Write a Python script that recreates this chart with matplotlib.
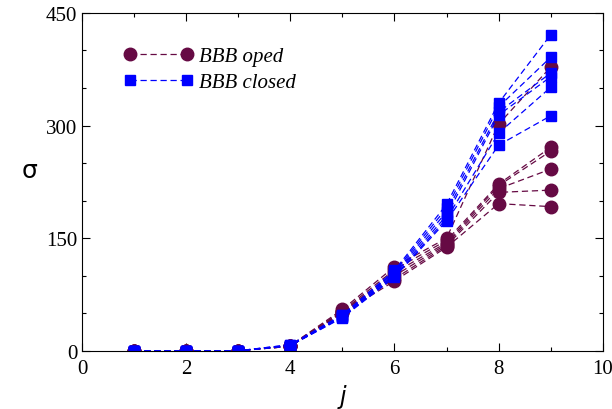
import matplotlib.pyplot as plt
from matplotlib.ticker import MultipleLocator

# j values shared by every run
j = [1, 2, 3, 4, 5, 6, 7, 8, 9]

# BBB oped runs
oped = [
    [0, 0, 0, 7, 55, 112, 150, 302, 378],
    [0, 0, 0, 7, 53, 108, 147, 222, 271],
    [0, 0, 0, 6, 52, 104, 144, 220, 266],
    [0, 0, 0, 6, 52, 100, 142, 216, 242],
    [0, 0, 0, 6, 51, 96, 140, 211, 214],
    [0, 0, 0, 6, 50, 93, 138, 196, 192],
]

# BBB closed runs
closed = [
    [0, 0, 0, 8, 48, 107, 195, 330, 421],
    [0, 0, 0, 8, 47, 105, 190, 325, 391],
    [0, 0, 0, 7, 46, 103, 185, 318, 370],
    [0, 0, 0, 7, 45, 101, 180, 314, 365],
    [0, 0, 0, 7, 45, 99, 176, 290, 351],
    [0, 0, 0, 7, 44, 98, 173, 274, 313],
]

MAROON = "#660a44"
BLUE = "#0000ff"

plt.rcParams["font.family"] = ["Liberation Serif", "DejaVu Serif"]

fig = plt.figure(figsize=(6.12, 4.10), dpi=100)
ax = fig.add_axes([0.134, 0.142, 0.851, 0.824])

for k, ys in enumerate(oped):
    ax.plot(j, ys, "--", color=MAROON, lw=0.9, dashes=(5, 3),
            marker="o", ms=9, mec=MAROON, mfc=MAROON,
            label="BBB oped" if k == 0 else None)
for k, ys in enumerate(closed):
    ax.plot(j, ys, "--", color=BLUE, lw=0.9, dashes=(5, 3),
            marker="s", ms=7, mec=BLUE, mfc=BLUE,
            label="BBB closed" if k == 0 else None)

ax.set_xlim(0, 10)
ax.set_ylim(0, 450)
ax.xaxis.set_major_locator(MultipleLocator(2))
ax.xaxis.set_minor_locator(MultipleLocator(1))
ax.yaxis.set_major_locator(MultipleLocator(150))
ax.yaxis.set_minor_locator(MultipleLocator(50))
ax.tick_params(which="both", direction="in", top=True, right=True,
               labelsize=15, width=0.8)
ax.tick_params(which="major", length=6)
ax.tick_params(which="minor", length=3)
ax.tick_params(axis="x", pad=6)

ax.set_xlabel("$j$", fontsize=17, labelpad=3)
ax.set_ylabel("σ", fontsize=18, family="DejaVu Sans", rotation=0, labelpad=12)

ax.legend(loc="upper left", bbox_to_anchor=(0.045, 0.955), frameon=False,
          numpoints=2, handlelength=3.3, handletextpad=0.3,
          prop={"family": "Liberation Serif", "style": "italic", "size": 15},
          labelspacing=0.3)

fig.savefig("out.png", dpi=100, facecolor="white")
